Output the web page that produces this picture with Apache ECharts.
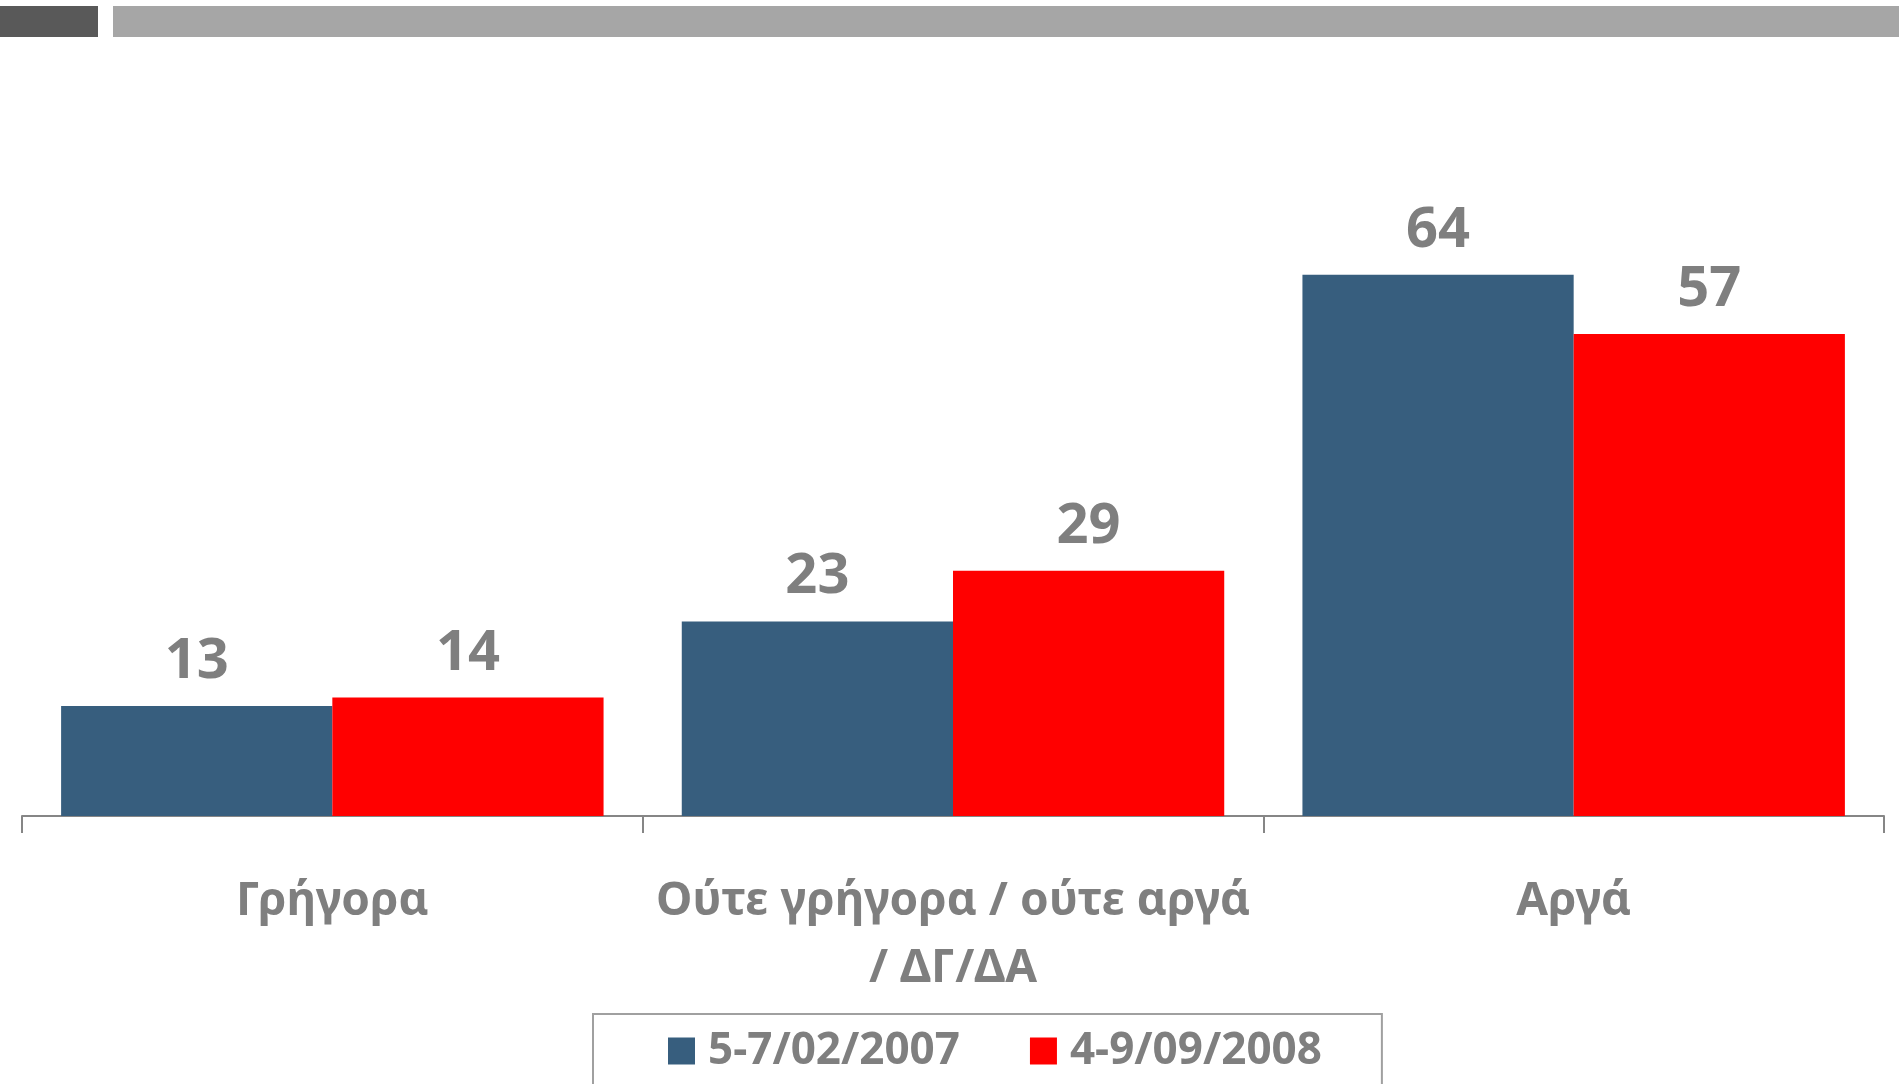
<!DOCTYPE html>
<html>
<head>
<meta charset="utf-8">
<script src="https://cdn.jsdelivr.net/npm/echarts@6/dist/echarts.min.js"></script>
<style>
  html, body { margin: 0; padding: 0; background: #fff; }
  #chart { width: 1899px; height: 1084px; }
</style>
</head>
<body>
<div id="chart"></div>
<script>
var categories = ['Γρήγορα', 'Ούτε γρήγορα / ούτε αργά / ΔΓ/ΔΑ', 'Αργά'];
var seriesNames = ['5-7/02/2007', '4-9/09/2008'];
var values2007 = [13, 23, 64];
var values2008 = [14, 29, 57];

var gray = '#7f7f7f';
var chart = echarts.init(document.getElementById('chart'));

chart.setOption({
    animation: false,
    backgroundColor: '#fff',
    textStyle: {fontFamily: 'Noto Sans'},
    graphic: [
        {type: 'rect', shape: {x: 0, y: 6, width: 98, height: 31}, style: {fill: '#595959'}},
        {type: 'rect', shape: {x: 113, y: 6, width: 1786, height: 31}, style: {fill: '#a6a6a6'}}
    ],
    grid: {left: 22, right: 15, top: 224, bottom: 268, containLabel: false},
    legend: {
        data: seriesNames,
        left: 593,
        top: 1014,
        padding: [15, 60, 40, 75],
        borderColor: '#a0a0a0',
        borderWidth: 2,
        itemWidth: 27,
        itemHeight: 27,
        itemGap: 70,
        icon: 'rect',
        textStyle: {color: gray, fontSize: 44, fontWeight: 'bold', lineHeight: 44, padding: [0, 0, 0, 8]}
    },
    xAxis: {
        type: 'category',
        data: categories,
        axisLine: {lineStyle: {color: '#868686', width: 2}},
        axisTick: {show: true, length: 17, lineStyle: {color: '#868686', width: 2}},
        axisLabel: {
            color: gray, fontSize: 46, fontWeight: 'bold', margin: 52, lineHeight: 67,
            interval: 0,
            formatter: function (v) { return v.replace(' / ΔΓ', '\n/ ΔΓ'); }
        }
    },
    yAxis: {
        type: 'value', min: 0, max: 70,
        show: false,
        splitLine: {show: false}
    },
    series: [
        {
            name: seriesNames[0], type: 'bar', data: values2007,
            barGap: '0%', barCategoryGap: '12.6%',
            itemStyle: {color: '#375e7e'},
            label: {show: true, position: 'top', distance: 16, color: gray, fontSize: 56, fontWeight: 'bold'}
        },
        {
            name: seriesNames[1], type: 'bar', data: values2008,
            barGap: '0%', barCategoryGap: '12.6%',
            itemStyle: {color: '#ff0000'},
            label: {show: true, position: 'top', distance: 16, color: gray, fontSize: 56, fontWeight: 'bold'}
        }
    ]
});
</script>
</body>
</html>
